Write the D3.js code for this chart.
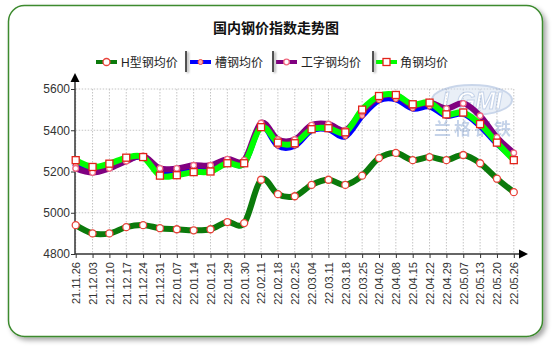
<!DOCTYPE html>
<html>
<head>
<meta charset="utf-8">
<script src="https://cdn.jsdelivr.net/npm/d3@7"></script>
<style>
  html, body { margin: 0; padding: 0; background: #fff; }
  svg { display: block; font-family: "Liberation Sans", Arial, "Noto Sans CJK SC", sans-serif; }
</style>
</head>
<body>
<svg id="chart" width="554" height="348"></svg>
<script>
// Weekly steel price index (元/吨)
const dates = ["21.11.26","21.12.03","21.12.10","21.12.17","21.12.24","21.12.31","22.01.07","22.01.14",
  "22.01.21","22.01.29","22.01.30","22.02.11","22.02.18","22.02.25","22.03.04","22.03.11","22.03.18",
  "22.03.25","22.04.02","22.04.08","22.04.15","22.04.22","22.04.29","22.05.07","22.05.13","22.05.20","22.05.26"];

const hBeam   = [4940,4900,4900,4930,4940,4925,4920,4915,4920,4955,4950,5160,5090,5080,5135,5160,5135,5180,5265,5290,5255,5270,5255,5280,5240,5165,5100];
const channel = [5230,5210,5225,5255,5270,5190,5195,5205,5210,5245,5240,5420,5325,5325,5400,5405,5370,5470,5545,5550,5505,5515,5470,5480,5420,5335,5265];
const iBeam   = [5215,5195,5215,5250,5275,5215,5215,5230,5230,5260,5255,5435,5355,5355,5425,5430,5400,5490,5560,5570,5520,5535,5505,5530,5470,5365,5290];
const angle   = [5255,5222,5238,5267,5270,5180,5182,5197,5200,5240,5240,5415,5340,5337,5405,5410,5390,5500,5566,5571,5526,5534,5477,5486,5430,5340,5255];

const seriesNames = ["H型钢均价","槽钢均价","工字钢均价","角钢均价"];
const yTicks = [4800,5000,5200,5400,5600];

const series = [
  {name: seriesNames[0], values: hBeam,   color: "#0b7a0b", width: 6, marker: "circle"},
  {name: seriesNames[1], values: channel, color: "#0000ff", width: 6, marker: "dot"},
  {name: seriesNames[2], values: iBeam,   color: "#800080", width: 6, marker: "ring"},
  {name: seriesNames[3], values: angle,   color: "#00ff00", width: 6, marker: "square"}
];

const svg = d3.select("#chart");
const defs = svg.append("defs");
const shadow = defs.append("filter").attr("id","shadow").attr("x","-5%").attr("y","-5%").attr("width","112%").attr("height","115%");
shadow.append("feDropShadow").attr("dx",3).attr("dy",3).attr("stdDeviation",2.5).attr("flood-color","#000").attr("flood-opacity",0.35);
const softBlur = defs.append("filter").attr("id","softBlur").attr("filterUnits","userSpaceOnUse")
  .attr("x",0).attr("y",0).attr("width",554).attr("height",348);
softBlur.append("feGaussianBlur").attr("stdDeviation",1);

// Frame
svg.append("rect")
  .attr("x",8.5).attr("y",5.5).attr("width",534).attr("height",331)
  .attr("rx",16).attr("ry",16)
  .attr("fill","#fff").attr("stroke","#3c8a2e").attr("stroke-width",1.5)
  .attr("filter","url(#shadow)");

// Title
svg.append("text").attr("x",276).attr("y",33).attr("text-anchor","middle")
  .attr("font-size",14).attr("font-weight","bold").attr("fill","#111")
  .attr("font-family","'Noto Sans CJK SC', sans-serif")
  .text("国内钢价指数走势图");

// Scales
const x = d3.scalePoint().domain(dates).range([75.7, 513.8]);
const y = d3.scaleLinear().domain([4800,5600]).range([254,89]);
const [x0, x1] = x.range();

// Grid
const grid = svg.append("g").attr("stroke","#c4c4c4").attr("stroke-dasharray","1.5,1.5").attr("stroke-width",1);
grid.selectAll("line.v").data(dates).join("line")
  .attr("x1",d=>x(d)).attr("x2",d=>x(d)).attr("y1",y(5600)).attr("y2",y(4800));
grid.selectAll("line.h").data(yTicks.slice(1)).join("line")
  .attr("x1",x0).attr("x2",x1).attr("y1",d=>y(d)).attr("y2",d=>y(d));

// Watermark
const wm = svg.append("g").attr("opacity",0.45);
wm.append("ellipse").attr("cx",472).attr("cy",100).attr("rx",40).attr("ry",15)
  .attr("fill","#cfdcef").attr("stroke","#8aa5d2").attr("stroke-width",2);
wm.append("text").attr("x",472).attr("y",109).attr("text-anchor","middle")
  .attr("font-size",24).attr("font-weight","bold").attr("font-style","italic")
  .attr("fill","#fff").attr("stroke","#7f9fd0").attr("stroke-width",1).text("LGMI");
wm.append("text").attr("x",474).attr("y",135).attr("text-anchor","middle")
  .attr("font-size",17).attr("font-weight","bold").attr("fill","#7f9fd0")
  .attr("font-family","'Noto Sans CJK SC', sans-serif").attr("letter-spacing",3)
  .text("兰格钢铁");

// Axes
const yAxis = svg.append("g").attr("transform",`translate(${x0 - 0.7},0)`)
  .call(d3.axisLeft(y).tickValues(yTicks).tickSize(4).tickPadding(1).tickFormat(d3.format("d")));
yAxis.select(".domain").attr("stroke","#333").attr("stroke-width",1.5).attr("d",`M0,${y(4800)}V80`);
yAxis.selectAll(".tick line").attr("stroke","#333");
yAxis.selectAll("text").attr("font-size",12).attr("fill","#333").attr("font-family","'Liberation Sans', Arial, sans-serif");

const xAxis = svg.append("g").attr("transform",`translate(0,${y(4800)})`)
  .call(d3.axisBottom(x).tickSize(4).tickSizeOuter(0));
xAxis.select(".domain").attr("stroke","#333").attr("stroke-width",1.5).attr("d",`M${x0-0.7},0H520`);
xAxis.selectAll(".tick line").attr("stroke","#333");
xAxis.selectAll("text")
  .attr("font-size",11).attr("fill","#333").attr("font-family","'Liberation Sans', Arial, sans-serif")
  .attr("transform","rotate(-90)").attr("text-anchor","end")
  .attr("x",-8).attr("y",0).attr("dy","0.35em");

// Axis arrows
svg.append("path").attr("d",`M${x0-0.7},73 L${x0-5.2},82 L${x0+3.8},82 Z`).attr("fill","#000");
svg.append("path").attr("d",`M528,${y(4800)} L519,${y(4800)-4.5} L519,${y(4800)+4.5} Z`).attr("fill","#000");

// Lines
const line = d3.line().x((d,i)=>x(dates[i])).y(d=>y(d)).curve(d3.curveCardinal.tension(0));
const lines = svg.append("g").attr("fill","none").attr("stroke-linejoin","round").attr("stroke-linecap","round");
series.forEach(s => {
  lines.append("path").attr("d",line(s.values)).attr("stroke",s.color).attr("stroke-width",s.width);
});

// Markers
function drawMarker(g, type, cx, cy) {
  if (type === "square") {
    g.append("rect").attr("x",cx-3.5).attr("y",cy-3.5).attr("width",7).attr("height",7)
      .attr("fill","#fff").attr("stroke","#e2231a").attr("stroke-width",1.3);
  } else if (type === "circle") {
    g.append("circle").attr("cx",cx).attr("cy",cy).attr("r",3.5)
      .attr("fill","#fff").attr("stroke","#e8433b").attr("stroke-width",1.3);
  } else if (type === "ring") {
    g.append("circle").attr("cx",cx).attr("cy",cy).attr("r",2.8)
      .attr("fill","#fff").attr("stroke","#f06a80").attr("stroke-width",1.3);
  } else {
    g.append("circle").attr("cx",cx).attr("cy",cy).attr("r",2.5)
      .attr("fill","#ffb0b0").attr("stroke","#e8433b").attr("stroke-width",1);
  }
}
const markers = svg.append("g");
series.forEach(s => {
  s.values.forEach((v,i) => drawMarker(markers, s.marker, x(dates[i]), y(v)));
});

// Legend
const legendItems = [
  {lx: 96,  tx: 121},
  {lx: 190, tx: 215},
  {lx: 276, tx: 301},
  {lx: 376, tx: 400}
];
const legend = svg.append("g");
const ly = 62;
series.forEach((s, i) => {
  const it = legendItems[i];
  legend.append("line").attr("x1",it.lx).attr("x2",it.lx+21).attr("y1",ly).attr("y2",ly)
    .attr("stroke",s.color).attr("stroke-width",4);
  drawMarker(legend, s.marker, it.lx+10.5, ly);
  legend.append("text").attr("x",it.tx).attr("y",ly+4.5).attr("font-size",12).attr("fill","#222")
    .attr("font-family","'Liberation Sans', 'Noto Sans CJK SC', sans-serif").text(s.name);
});
// Legend separators with a soft shadow
[186, 273, 373].forEach(sx => {
  legend.append("rect").attr("x",sx+0.5).attr("y",52).attr("width",2.5).attr("height",21)
    .attr("fill","#888").attr("opacity",0.6).attr("filter","url(#softBlur)");
  legend.append("rect").attr("x",sx-0.75).attr("y",51).attr("width",1.5).attr("height",21)
    .attr("fill","#222");
});
</script>
</body>
</html>
